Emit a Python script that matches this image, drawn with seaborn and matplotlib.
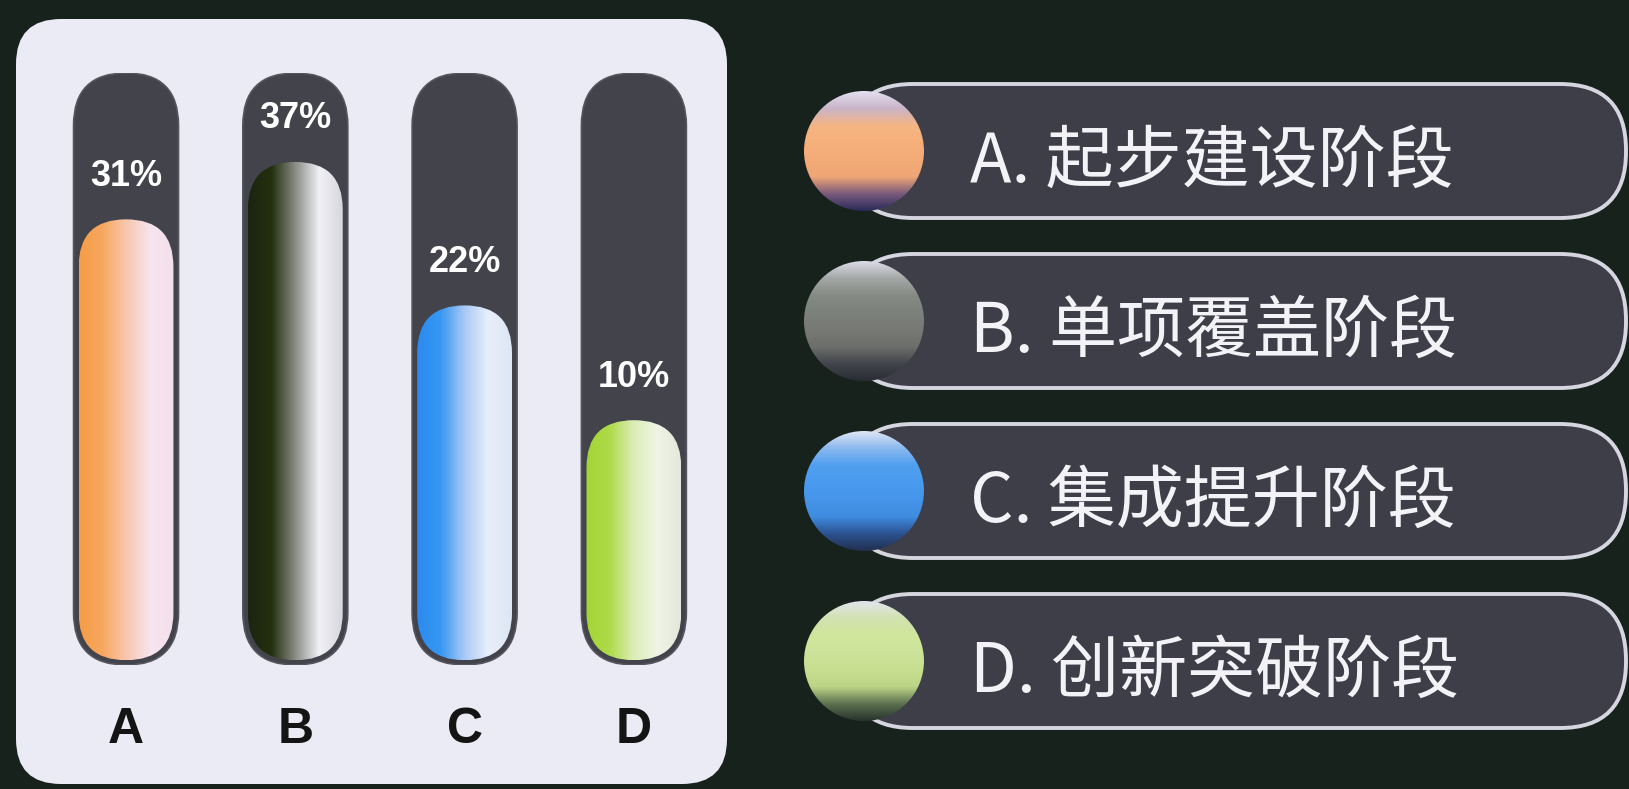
import numpy as np
import pandas as pd
import matplotlib
matplotlib.use('Agg')
import matplotlib.pyplot as plt
import seaborn as sns
from matplotlib.patches import FancyBboxPatch, Circle
from matplotlib.colors import LinearSegmentedColormap

# data
categories = ['A', 'B', 'C', 'D']
shares = [31, 37, 22, 10]
pct_labels = ['31%', '37%', '22%', '10%']
stage_names = ['A. 起步建设阶段', 'B. 单项覆盖阶段', 'C. 集成提升阶段', 'D. 创新突破阶段']

# bar fills: horizontal gradient stops, left -> right
fill_stops = [
    ['#f59c45', '#f7a860', '#f8c7b0', '#f6e4ee', '#f3e0ea'],
    ['#1b2410', '#25300f', '#8a8c86', '#f1f1f6', '#d6d6de'],
    ['#2b8bef', '#3797f2', '#a9c9f4', '#e8effa', '#dde6f4'],
    ['#a2d534', '#aedb4a', '#dcedb6', '#f0f4e6', '#e4e8dc'],
]
# legend balls: vertical gradient stops, top -> bottom
ball_stops = [
    ['#e4e0f2', '#c9b4c8', '#f4b584', '#f6b07a', '#f3ab78', '#f0a676', '#7a5a7c', '#2a2a5a'],
    ['#dcdde8', '#a4a7a6', '#868a84', '#7d817b', '#777a74', '#6c6f6a', '#43454c', '#2a2c34'],
    ['#e0e6f4', '#8ab8ee', '#4f9ff0', '#4a9aef', '#4595ea', '#3f8ce0', '#2c5290', '#22304e'],
    ['#e2e5ee', '#d2e2b0', '#d0e79c', '#cde39a', '#c8df90', '#bcd486', '#5d7150', '#26332c'],
]

sns.set_theme(style='white')
plt.rcParams['font.family'] = ['Noto Sans CJK SC', 'DejaVu Sans']

W, H = 1629, 789
fig = plt.figure(figsize=(W / 100, H / 100), dpi=100)
fig.patch.set_facecolor('#17221d')

# background layer in pixel units
bg = fig.add_axes([0, 0, 1, 1], zorder=0)
bg.set_xlim(0, W)
bg.set_ylim(0, H)
bg.axis('off')
bg.add_patch(FancyBboxPatch((16, 5), 711, 765, boxstyle='round,pad=0,rounding_size=45',
                            facecolor='#ebebf5', edgecolor='none'))

# legend pills with coloured balls
for i, name in enumerate(stage_names):
    yc = H - (151 + i * 170)
    ph = 134
    bg.add_patch(FancyBboxPatch((847, yc - ph / 2), 779, ph,
                                boxstyle='round,pad=0,rounding_size=66',
                                facecolor='#3d3e48', edgecolor='#d6d6e0', lw=2.8))
    bg.text(970, yc - 12, name, color='#f3f3f7', fontsize=49, va='center', ha='left')
    r = 60
    ball = Circle((864, yc), r, facecolor='none', edgecolor='none')
    bg.add_patch(ball)
    cmap = LinearSegmentedColormap.from_list('ball%d' % i, ball_stops[i])
    im = bg.imshow(np.linspace(0, 1, 256).reshape(-1, 1), cmap=cmap, aspect='auto',
                   extent=(864 - r, 864 + r, yc - r, yc + r), interpolation='bicubic', zorder=3)
    im.set_clip_path(ball)
bg.set_xlim(0, W)
bg.set_ylim(0, H)

# bar layer
ylo, yhi = -15.6, 46.3
xlo, xhi = -0.65, 3.55
axb = fig.add_axes([16 / W, 124 / H, 711 / W, 592 / H], zorder=2)
axb.patch.set_alpha(0)
df = pd.DataFrame({'stage': categories, 'share': shares})
sns.barplot(data=df, x='stage', y='share', ax=axb, width=0.56, errorbar=None, color='#888888')
asp = ((yhi - ylo) / 592) / ((xhi - xlo) / 711)

for i, p in enumerate(axb.patches):
    p.set_visible(False)
    xc = p.get_x() + p.get_width() / 2
    top = p.get_height()
    tw = 0.62
    axb.add_patch(FancyBboxPatch((xc - tw / 2, ylo), tw, yhi - ylo,
                                 boxstyle='round,pad=0,rounding_size=%f' % (tw / 2),
                                 mutation_aspect=asp, facecolor='#43434c',
                                 edgecolor='#55555e', lw=1.2, zorder=1))
    fw = p.get_width()
    y0 = ylo + 0.5
    cap = FancyBboxPatch((xc - fw / 2, y0), fw, top - y0,
                         boxstyle='round,pad=0,rounding_size=%f' % (fw / 2),
                         mutation_aspect=asp, facecolor='none', edgecolor='none', zorder=2)
    axb.add_patch(cap)
    cmap = LinearSegmentedColormap.from_list('fill%d' % i, fill_stops[i])
    im = axb.imshow(np.linspace(0, 1, 256).reshape(1, -1), cmap=cmap, aspect='auto',
                    extent=(xc - fw / 2, xc + fw / 2, y0, top), interpolation='bicubic', zorder=3)
    im.set_clip_path(cap)
    axb.annotate(pct_labels[i], (xc, top), xytext=(0, 31), textcoords='offset points',
                 ha='center', va='center', color='white', fontsize=26, fontweight='bold',
                 family=['Liberation Sans', 'DejaVu Sans'], zorder=4)

axb.set_xlim(xlo, xhi)
axb.set_ylim(ylo, yhi)
axb.set_xlabel('')
axb.set_ylabel('')
axb.set_yticks([])
axb.tick_params(axis='x', length=0, pad=30)
for lab in axb.get_xticklabels():
    lab.set_fontsize(36)
    lab.set_fontweight('bold')
    lab.set_color('#141414')
    lab.set_family(['Liberation Sans', 'DejaVu Sans'])
sns.despine(ax=axb, left=True, bottom=True)

fig.savefig('out.png', dpi=100, facecolor=fig.get_facecolor())
